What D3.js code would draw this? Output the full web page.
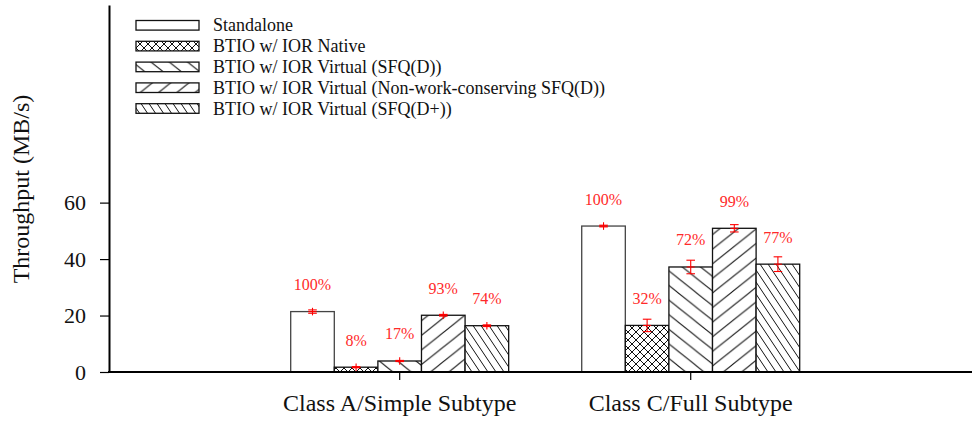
<!DOCTYPE html>
<html>
<head>
<meta charset="utf-8">
<script src="https://cdn.jsdelivr.net/npm/d3@7"></script>
<style>
  html, body { margin: 0; padding: 0; background: #fff; }
  svg { display: block; }
</style>
</head>
<body>
<svg id="chart" width="972" height="423"></svg>
<script>
// Workload groups on the x axis
const categories = ["Class A/Simple Subtype", "Class C/Full Subtype"];

// Series (legend order)
const seriesNames = [
  "Standalone",
  "BTIO w/ IOR Native",
  "BTIO w/ IOR Virtual (SFQ(D))",
  "BTIO w/ IOR Virtual (Non-work-conserving SFQ(D))",
  "BTIO w/ IOR Virtual (SFQ(D+))"
];

// Throughput in MB/s, one value per category
const standalone = [21.4, 51.7];
const iorNative = [1.7, 16.5];
const iorSfqD = [3.9, 37.2];
const iorNwcSfqD = [20.1, 50.9];
const iorSfqDPlus = [16.4, 38.2];

// Error half-widths (MB/s)
const standaloneErr = [0.6, 0.3];
const iorNativeErr = [0.2, 2.2];
const iorSfqDErr = [0.2, 2.4];
const iorNwcSfqDErr = [0.3, 1.3];
const iorSfqDPlusErr = [0.3, 2.6];

// Throughput relative to standalone
const standalonePct = ["100%", "100%"];
const iorNativePct = ["8%", "32%"];
const iorSfqDPct = ["17%", "72%"];
const iorNwcSfqDPct = ["93%", "99%"];
const iorSfqDPlusPct = ["74%", "77%"];

const yTicks = [0, 20, 40, 60];
const yLabel = "Throughput (MB/s)";

const FONT = "'Liberation Serif', 'FreeSerif', serif";

const seriesValues = [standalone, iorNative, iorSfqD, iorNwcSfqD, iorSfqDPlus];
const seriesErrs = [standaloneErr, iorNativeErr, iorSfqDErr, iorNwcSfqDErr, iorSfqDPlusErr];
const seriesPcts = [standalonePct, iorNativePct, iorSfqDPct, iorNwcSfqDPct, iorSfqDPlusPct];
const fills = ["none", "cross", "back", "fwd", "dense"];

const svg = d3.select("#chart");
const plot = { left: 109, right: 972, top: 5, bottom: 372 };

const y = d3.scaleLinear().domain([0, 130]).range([plot.bottom, plot.top]);
const x0 = d3.scaleBand().domain(categories).range([290.7, 799.7]).paddingInner(0.251).paddingOuter(0);
const x1 = d3.scaleBand().domain(seriesNames).range([0, x0.bandwidth()]);

// Hatch patterns
const defs = svg.append("defs");
function hatch(id, w, h, lines) {
  const p = defs.append("pattern").attr("id", id).attr("patternUnits", "userSpaceOnUse")
    .attr("width", w).attr("height", h);
  p.append("rect").attr("width", w).attr("height", h).attr("fill", "#fff");
  lines.forEach(([ax, ay, bx, by]) => {
    p.append("line").attr("x1", ax).attr("y1", ay).attr("x2", bx).attr("y2", by)
      .attr("stroke", "#111").attr("stroke-width", 1);
  });
}
// "\" lines, shallow
{
  const w = 18.3, h = 14.6;
  hatch("back", w, h, [[-w, -h, 2 * w, 2 * h], [-w, 0, w, 2 * h], [0, -h, 2 * w, h]]);
}
// "/" lines, shallow
{
  const w = 18.3, h = 14.6;
  hatch("fwd", w, h, [[-w, 2 * h, 2 * w, -h], [-w, h, w, -h], [0, 2 * h, 2 * w, 0]]);
}
// dense steep "\" lines
{
  const w = 8, h = 12;
  hatch("dense", w, h, [[-w, -h, 2 * w, 2 * h], [-w, 0, w, 2 * h], [0, -h, 2 * w, h]]);
}
// crosshatch
{
  const w = 8, h = 8;
  hatch("cross", w, h, [[-w, -h, 2 * w, 2 * h], [-w, 0, w, 2 * h], [0, -h, 2 * w, h],
                         [-w, 2 * h, 2 * w, -h], [-w, h, w, -h], [0, 2 * h, 2 * w, 0]]);
}
const fillOf = f => f === "none" ? "#fff" : `url(#${f})`;

// Bars
const barData = [];
seriesNames.forEach((s, si) => {
  categories.forEach((c, ci) => {
    barData.push({ s, c, v: seriesValues[si][ci], e: seriesErrs[si][ci], pct: seriesPcts[si][ci], fill: fills[si] });
  });
});

svg.append("g").selectAll("rect").data(barData).join("rect")
  .attr("x", d => x0(d.c) + x1(d.s))
  .attr("y", d => y(d.v))
  .attr("width", x1.bandwidth())
  .attr("height", d => y(0) - y(d.v))
  .attr("fill", d => fillOf(d.fill))
  .attr("stroke", d => d.fill === "none" ? "#444" : "#111")
  .attr("stroke-width", 1.3);

// Error bars with a "+" at the mean
const eb = svg.append("g").attr("stroke", "#f00").attr("stroke-width", 1.1);
barData.forEach(d => {
  const cx = x0(d.c) + x1(d.s) + x1.bandwidth() / 2;
  const lo = y(d.v - d.e), hi = y(d.v + d.e), m = y(d.v);
  eb.append("line").attr("x1", cx).attr("x2", cx).attr("y1", Math.max(lo, m + 3.8)).attr("y2", Math.min(hi, m - 3.8));
  eb.append("line").attr("x1", cx - 4.3).attr("x2", cx + 4.3).attr("y1", lo).attr("y2", lo);
  eb.append("line").attr("x1", cx - 4.3).attr("x2", cx + 4.3).attr("y1", hi).attr("y2", hi);
  eb.append("line").attr("x1", cx - 4).attr("x2", cx + 4).attr("y1", m).attr("y2", m);
});

// Relative-throughput labels
svg.append("g").selectAll("text").data(barData).join("text")
  .attr("x", d => x0(d.c) + x1(d.s) + x1.bandwidth() / 2)
  .attr("y", d => y(d.v) - 21.5)
  .attr("text-anchor", "middle")
  .attr("font-family", FONT)
  .attr("font-size", 16)
  .attr("fill", "#ff2a2a")
  .text(d => d.pct);

// Y axis
const yAxis = svg.append("g").attr("transform", `translate(${plot.left},0)`)
  .call(d3.axisLeft(y).tickValues(yTicks).tickSize(9).tickSizeOuter(0).tickPadding(14));
yAxis.attr("font-family", FONT).attr("font-size", 22);
yAxis.select(".domain").attr("stroke", "#000").attr("stroke-width", 2);
yAxis.selectAll(".tick line").attr("stroke", "#000").attr("stroke-width", 1.2);
yAxis.selectAll(".tick text").attr("fill", "#111");

// X axis
svg.append("line").attr("x1", plot.left - 1).attr("x2", plot.right)
  .attr("y1", plot.bottom).attr("y2", plot.bottom).attr("stroke", "#000").attr("stroke-width", 2);
const xAxis = svg.append("g").attr("transform", `translate(0,${plot.bottom})`)
  .call(d3.axisBottom(x0).tickSize(8).tickSizeOuter(0).tickPadding(14));
xAxis.attr("font-family", FONT).attr("font-size", 24);
xAxis.select(".domain").remove();
xAxis.selectAll(".tick line").attr("stroke", "#000").attr("stroke-width", 1.2);
xAxis.selectAll(".tick text").attr("fill", "#111");

// Y axis title
svg.append("text")
  .attr("transform", `translate(29,189) rotate(-90)`)
  .attr("text-anchor", "middle")
  .attr("font-family", FONT)
  .attr("font-size", 24)
  .attr("fill", "#111")
  .text(yLabel);

// Legend
const legend = svg.append("g");
seriesNames.forEach((s, i) => {
  const cy = 25.3 + i * 20.8;
  legend.append("rect").attr("x", 136).attr("y", cy - 4.8).attr("width", 63).attr("height", 9.6)
    .attr("fill", fillOf(fills[i])).attr("stroke", "#111").attr("stroke-width", 1.3);
  legend.append("text").attr("x", 213).attr("y", cy + 6)
    .attr("font-family", FONT).attr("font-size", 18).attr("fill", "#111").text(s);
});
</script>
</body>
</html>
